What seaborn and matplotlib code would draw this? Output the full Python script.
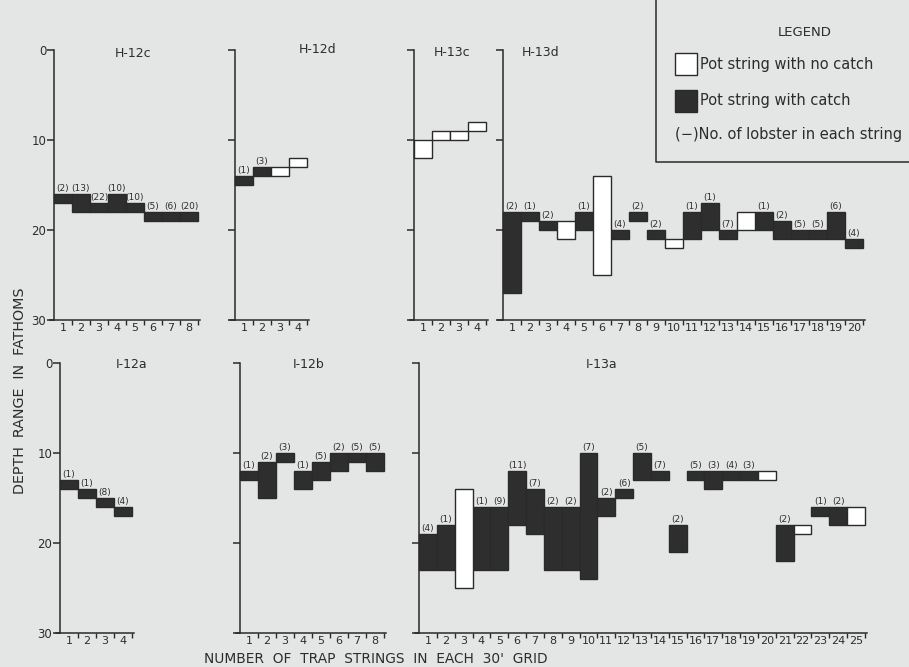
import numpy as np
import pandas as pd
import matplotlib
matplotlib.use("Agg")
import matplotlib.pyplot as plt
from matplotlib.patches import Rectangle
from matplotlib.lines import Line2D
import seaborn as sns

# ---------------- data (depth in fathoms) ----------------
h12c_top    = [16, 16, 17, 16, 17, 18, 18, 18]
h12c_bottom = [17, 18, 18, 18, 18, 19, 19, 19]
h12c_catch  = [1, 1, 1, 1, 1, 1, 1, 1]
h12c_count  = [2, 13, 22, 10, 10, 5, 6, 20]

h12d_top    = [14, 13, 13, 12]
h12d_bottom = [15, 14, 14, 13]
h12d_catch  = [1, 1, 0, 0]
h12d_count  = [1, 3, None, None]

h13c_top    = [10, 9, 9, 8]
h13c_bottom = [12, 10, 10, 9]
h13c_catch  = [0, 0, 0, 0]
h13c_count  = [None, None, None, None]

h13d_top    = [18, 18, 19, 19, 18, 14, 20, 18, 20, 21, 18, 17, 20, 18, 18, 19, 20, 20, 18, 21]
h13d_bottom = [27, 19, 20, 21, 20, 25, 21, 19, 21, 22, 21, 20, 21, 20, 20, 21, 21, 21, 21, 22]
h13d_catch  = [1, 1, 1, 0, 1, 0, 1, 1, 1, 0, 1, 1, 1, 0, 1, 1, 1, 1, 1, 1]
h13d_count  = [2, 1, 2, None, 1, None, 4, 2, 2, None, 1, 1, 7, None, 1, 2, 5, 5, 6, 4]

i12a_top    = [13, 14, 15, 16]
i12a_bottom = [14, 15, 16, 17]
i12a_catch  = [1, 1, 1, 1]
i12a_count  = [1, 1, 8, 4]

i12b_top    = [12, 11, 10, 12, 11, 10, 10, 10]
i12b_bottom = [13, 15, 11, 14, 13, 12, 11, 12]
i12b_catch  = [1, 1, 1, 1, 1, 1, 1, 1]
i12b_count  = [1, 2, 3, 1, 5, 2, 5, 5]

i13a_top    = [19, 18, 14, 16, 16, 12, 14, 16, 16, 10, 15, 14, 10, 12, 18, 12, 12, 12, 12, 12, 18, 18, 16, 16, 16]
i13a_bottom = [23, 23, 25, 23, 23, 18, 19, 23, 23, 24, 17, 15, 13, 13, 21, 13, 14, 13, 13, 13, 22, 19, 17, 18, 18]
i13a_catch  = [1, 1, 0, 1, 1, 1, 1, 1, 1, 1, 1, 1, 1, 1, 1, 1, 1, 1, 1, 0, 1, 0, 1, 1, 0]
i13a_count  = [4, 1, None, 1, 9, 11, 7, 2, 2, 7, 2, 6, 5, 7, 2, 5, 3, 4, 3, None, 2, None, 1, 2, None]

panel_names = ["H-12c", "H-12d", "H-13c", "H-13d", "I-12a", "I-12b", "I-13a"]
y_ticks = [0, 10, 20, 30]

# ---------------- style ----------------
BG = "#e3e6e5"
DARK = "#2e2e2e"
LINE = "#2a2a2a"
TXT = "#2c2c2c"

sns.set_style("white")
plt.rcParams["font.family"] = ["DejaVu Sans"]
plt.rcParams["axes.facecolor"] = "none"
plt.rcParams["figure.facecolor"] = BG
plt.rcParams["text.color"] = TXT

W, H = 909, 667
fig = plt.figure(figsize=(W / 100, H / 100), dpi=100)

ov = fig.add_axes([0, 0, 1, 1], zorder=-1)
ov.set_xlim(0, W)
ov.set_ylim(H, 0)
ov.axis("off")

# layout: (axis x px, depth-0 y px, px per string, title x, title y, show y labels)
layout = {
    "H-12c": (54, 50, 18.0, 3.9, 0.35, True),
    "H-12d": (235, 50, 18.0, 4.1, -0.1, False),
    "H-13c": (414, 50, 18.0, 1.6, 0.3, False),
    "H-13d": (503, 50, 18.0, 1.6, 0.3, False),
    "I-12a": (60, 363, 18.0, 3.5, 0.2, True),
    "I-12b": (240, 363, 18.0, 3.3, 0.2, False),
    "I-13a": (419, 363, 17.84, 9.76, 0.2, False),
}

series = {
    "H-12c": (h12c_top, h12c_bottom, h12c_catch, h12c_count),
    "H-12d": (h12d_top, h12d_bottom, h12d_catch, h12d_count),
    "H-13c": (h13c_top, h13c_bottom, h13c_catch, h13c_count),
    "H-13d": (h13d_top, h13d_bottom, h13d_catch, h13d_count),
    "I-12a": (i12a_top, i12a_bottom, i12a_catch, i12a_count),
    "I-12b": (i12b_top, i12b_bottom, i12b_catch, i12b_count),
    "I-13a": (i13a_top, i13a_bottom, i13a_catch, i13a_count),
}

PX_PER_FATHOM = 9.0
LP, RP = 0.25, 0.12

for name in panel_names:
    top, bottom, catch, count = series[name]
    ax_x, y0, unit, tx, ty, show_lab = layout[name]
    n = len(top)
    left_px = ax_x - LP * unit
    width_px = (n + LP + RP) * unit
    height_px = 30 * PX_PER_FATHOM
    ax = fig.add_axes([left_px / W, 1 - (y0 + height_px) / H, width_px / W, height_px / H])

    labels = [str(i + 1) for i in range(n)]
    df = pd.DataFrame({
        "string": labels,
        "top": top,
        "span": np.array(bottom) - np.array(top),
        "catch": catch,
    })
    for caught, face in [(1, DARK), (0, "white")]:
        sub = df[df["catch"] == caught]
        if sub.empty:
            continue
        sns.barplot(data=sub, x="string", y="span", order=labels,
                    bottom=sub["top"].to_numpy(dtype=float),
                    width=1.0, errorbar=None, color=face, saturation=1,
                    edgecolor=LINE, linewidth=1.0, ax=ax)

    for i, (t, c) in enumerate(zip(top, count)):
        if c is not None:
            ax.text(i, t - 0.15, f"({c})", ha="center", va="bottom",
                    fontsize=6.5, color=TXT, clip_on=False)

    ax.set_xlim(-0.5 - LP, n - 0.5 + RP)
    ax.set_ylim(30, 0)
    ax.set_xlabel("")
    ax.set_ylabel("")
    for s in ["top", "right"]:
        ax.spines[s].set_visible(False)
    ax.spines["left"].set_position(("data", -0.5))
    for s in ["left", "bottom"]:
        ax.spines[s].set_color(LINE)
        ax.spines[s].set_linewidth(1.1)

    ax.set_xticks(range(n))
    ax.set_xticklabels(labels)
    ax.set_xticks([k + 0.5 for k in range(n)], minor=True)
    ax.tick_params(axis="x", which="major", bottom=True, length=0, pad=2.5,
                   labelsize=8, colors=TXT)
    ax.tick_params(axis="x", which="minor", bottom=True, length=3.5, width=1.0,
                   direction="out", color=LINE)

    ax.set_yticks(y_ticks)
    ax.tick_params(axis="y", which="major", left=True, length=5, width=1.1, direction="out",
                   color=LINE, labelsize=8.5, pad=0.5, labelleft=show_lab, labelcolor=TXT)
    ax.tick_params(axis="y", which="minor", left=False)
    ax.grid(False)

    ax.text(tx, ty, name, ha="center", va="center", fontsize=9, color=TXT, clip_on=False)

# ---------------- axis titles ----------------
ov.text(20, 391, "DEPTH  RANGE  IN  FATHOMS", rotation=90, ha="center", va="center",
        fontsize=10.3, color=TXT)
ov.text(376, 659, "NUMBER  OF  TRAP  STRINGS  IN  EACH  30'  GRID", ha="center", va="center",
        fontsize=9.9, color=TXT)

# ---------------- legend box ----------------
ov.add_line(Line2D([656, 656, W + 5], [-5, 162, 162], color=LINE, lw=1.1))
ov.text(805, 32, "LEGEND", ha="center", va="center", fontsize=9.5, color=TXT)
ov.add_patch(Rectangle((675, 53), 22, 22, facecolor="white", edgecolor=LINE, lw=1.0))
ov.text(700, 64, "Pot string with no catch", ha="left", va="center", fontsize=10.5, color=TXT)
ov.add_patch(Rectangle((675, 90), 22, 22, facecolor=DARK, edgecolor=LINE, lw=1.0))
ov.text(700, 101, "Pot string with catch", ha="left", va="center", fontsize=10.5, color=TXT)
ov.text(675, 135, "(\u2212)No. of lobster in each string", ha="left", va="center",
        fontsize=10.5, color=TXT)

fig.savefig("out.png", dpi=100, facecolor=BG)
